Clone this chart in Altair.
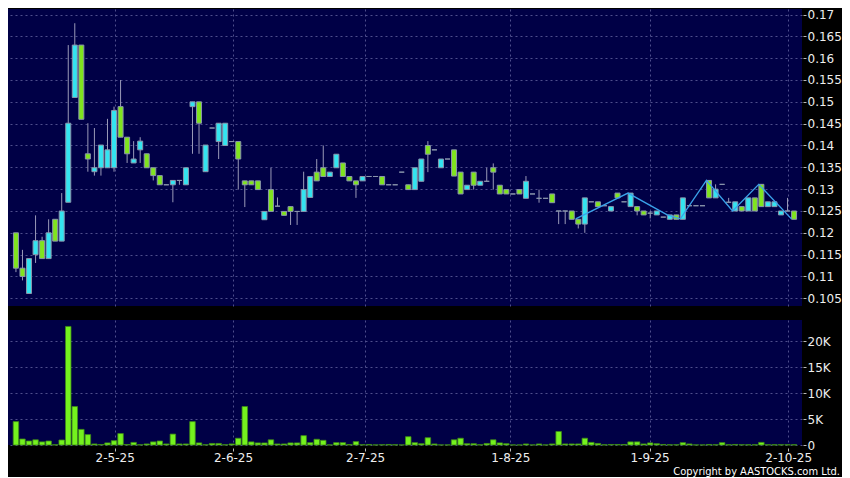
import altair as alt
import pandas as pd

# ---------------- data ----------------
open_ = [0.1200, 0.1119, 0.1061, 0.1150, 0.1182, 0.1141, 0.1231, 0.1181, 0.1270, 0.1510,
         0.1630, 0.1381, 0.1340, 0.1349, 0.1349, 0.1349, 0.1489, 0.1419, 0.1360, 0.1390,
         0.1381, 0.1349, 0.1331, 0.1310, 0.1310, 0.1320, 0.1310, 0.1489, 0.1500, 0.1340,
         0.1440, 0.1409, 0.1400, 0.1409, 0.1409, 0.1319, 0.1319, 0.1319, 0.1230, 0.1299,
         0.1261, 0.1249, 0.1260, 0.1249, 0.1249, 0.1281, 0.1339, 0.1349, 0.1329, 0.1349,
         0.1360, 0.1329, 0.1319, 0.1319, 0.1329, 0.1329, 0.1329, 0.1310, 0.1310, 0.1339,
         0.1310, 0.1299, 0.1318, 0.1400, 0.1390, 0.1349, 0.1369, 0.1390, 0.1339, 0.1299,
         0.1339, 0.1309, 0.1318, 0.1349, 0.1309, 0.1299, 0.1289, 0.1299, 0.1279, 0.1289,
         0.1279, 0.1279, 0.1289, 0.1250, 0.1250, 0.1250, 0.1231, 0.1220, 0.1271, 0.1271,
         0.1262, 0.1250, 0.1291, 0.1271, 0.1260, 0.1260, 0.1250, 0.1245, 0.1241, 0.1236,
         0.1231, 0.1241, 0.1231, 0.1262, 0.1262, 0.1262, 0.1320, 0.1280, 0.1311, 0.1270,
         0.1250, 0.1260, 0.1250, 0.1280, 0.1311, 0.1260, 0.1260, 0.1241, 0.1250, 0.1250]

high = [0.1200, 0.1161, 0.1141, 0.1240, 0.1191, 0.1231, 0.1231, 0.1291, 0.1630, 0.1680,
        0.1630, 0.1451, 0.1440, 0.1401, 0.1461, 0.1489, 0.1550, 0.1419, 0.1410, 0.1419,
        0.1381, 0.1349, 0.1331, 0.1310, 0.1320, 0.1320, 0.1349, 0.1500, 0.1500, 0.1401,
        0.1440, 0.1451, 0.1451, 0.1409, 0.1409, 0.1319, 0.1319, 0.1319, 0.1249, 0.1349,
        0.1281, 0.1249, 0.1260, 0.1249, 0.1340, 0.1329, 0.1369, 0.1400, 0.1339, 0.1380,
        0.1360, 0.1329, 0.1319, 0.1329, 0.1329, 0.1329, 0.1329, 0.1310, 0.1310, 0.1339,
        0.1310, 0.1349, 0.1369, 0.1410, 0.1390, 0.1369, 0.1369, 0.1390, 0.1339, 0.1309,
        0.1339, 0.1318, 0.1349, 0.1359, 0.1309, 0.1299, 0.1289, 0.1299, 0.1330, 0.1289,
        0.1299, 0.1279, 0.1289, 0.1250, 0.1250, 0.1250, 0.1231, 0.1280, 0.1271, 0.1271,
        0.1262, 0.1260, 0.1291, 0.1271, 0.1291, 0.1260, 0.1250, 0.1250, 0.1250, 0.1236,
        0.1241, 0.1241, 0.1280, 0.1262, 0.1262, 0.1262, 0.1320, 0.1311, 0.1311, 0.1280,
        0.1271, 0.1260, 0.1280, 0.1280, 0.1311, 0.1271, 0.1271, 0.1250, 0.1280, 0.1250]

low = [0.1110, 0.1091, 0.1061, 0.1131, 0.1141, 0.1141, 0.1181, 0.1181, 0.1270, 0.1510,
       0.1460, 0.1340, 0.1331, 0.1331, 0.1349, 0.1340, 0.1419, 0.1360, 0.1360, 0.1360,
       0.1349, 0.1320, 0.1310, 0.1310, 0.1270, 0.1310, 0.1310, 0.1381, 0.1381, 0.1340,
       0.1440, 0.1369, 0.1400, 0.1409, 0.1299, 0.1259, 0.1310, 0.1299, 0.1230, 0.1249,
       0.1261, 0.1240, 0.1218, 0.1218, 0.1249, 0.1281, 0.1319, 0.1329, 0.1329, 0.1349,
       0.1329, 0.1319, 0.1280, 0.1319, 0.1329, 0.1329, 0.1310, 0.1310, 0.1310, 0.1339,
       0.1299, 0.1299, 0.1318, 0.1339, 0.1390, 0.1349, 0.1369, 0.1330, 0.1289, 0.1299,
       0.1299, 0.1309, 0.1318, 0.1299, 0.1289, 0.1289, 0.1289, 0.1289, 0.1279, 0.1289,
       0.1269, 0.1279, 0.1269, 0.1220, 0.1220, 0.1231, 0.1210, 0.1200, 0.1271, 0.1260,
       0.1262, 0.1250, 0.1280, 0.1271, 0.1260, 0.1240, 0.1241, 0.1233, 0.1241, 0.1236,
       0.1231, 0.1231, 0.1231, 0.1262, 0.1262, 0.1262, 0.1280, 0.1280, 0.1311, 0.1270,
       0.1250, 0.1250, 0.1250, 0.1250, 0.1260, 0.1260, 0.1260, 0.1241, 0.1250, 0.1231]

close = [0.1119, 0.1100, 0.1141, 0.1182, 0.1141, 0.1200, 0.1181, 0.1250, 0.1451, 0.1630,
         0.1460, 0.1369, 0.1349, 0.1401, 0.1390, 0.1480, 0.1419, 0.1381, 0.1369, 0.1410,
         0.1349, 0.1331, 0.1310, 0.1310, 0.1320, 0.1320, 0.1349, 0.1500, 0.1451, 0.1401,
         0.1440, 0.1451, 0.1451, 0.1409, 0.1369, 0.1310, 0.1310, 0.1299, 0.1249, 0.1249,
         0.1261, 0.1240, 0.1249, 0.1249, 0.1299, 0.1329, 0.1319, 0.1329, 0.1339, 0.1380,
         0.1329, 0.1319, 0.1310, 0.1329, 0.1329, 0.1329, 0.1310, 0.1310, 0.1310, 0.1339,
         0.1299, 0.1349, 0.1369, 0.1380, 0.1390, 0.1369, 0.1369, 0.1330, 0.1289, 0.1309,
         0.1309, 0.1318, 0.1318, 0.1339, 0.1289, 0.1289, 0.1289, 0.1289, 0.1318, 0.1289,
         0.1279, 0.1279, 0.1269, 0.1250, 0.1250, 0.1231, 0.1220, 0.1280, 0.1271, 0.1260,
         0.1262, 0.1260, 0.1280, 0.1271, 0.1291, 0.1250, 0.1241, 0.1245, 0.1250, 0.1236,
         0.1241, 0.1231, 0.1280, 0.1262, 0.1262, 0.1262, 0.1280, 0.1300, 0.1311, 0.1270,
         0.1271, 0.1250, 0.1280, 0.1250, 0.1260, 0.1271, 0.1271, 0.1250, 0.1250, 0.1231]

volume = [4500, 1150, 770, 1000, 600, 770, 50, 960, 22800, 7400,
          3000, 2000, 200, 100, 400, 830, 2200, 100, 500, 50,
          200, 600, 770, 200, 2100, 200, 200, 4500, 400, 50,
          300, 300, 50, 200, 1300, 7400, 600, 400, 400, 1000,
          200, 200, 400, 400, 1800, 450, 1100, 900, 20, 450,
          450, 100, 650, 50, 100, 20, 50, 100, 50, 20,
          1600, 450, 250, 1400, 200, 20, 20, 1000, 1300, 250,
          250, 50, 300, 1000, 400, 250, 20, 20, 200, 20,
          200, 20, 200, 2600, 200, 200, 200, 1300, 500, 300,
          50, 100, 100, 100, 600, 600, 200, 400, 250, 100,
          50, 50, 450, 200, 20, 20, 100, 50, 450, 50,
          100, 50, 50, 50, 500, 50, 50, 50, 50, 50]

# zig-zag overlay (candle index, price)
zz_idx = [86, 94, 100, 102, 106, 110, 114, 119]
zz_val = [0.1232, 0.1291, 0.1241, 0.1232, 0.1320, 0.1250, 0.1311, 0.1232]

tick_pos = [15.1, 33.2, 53.4, 75.6, 96.9, 118.1]
tick_labels = ["2-5-25", "2-6-25", "2-7-25", "1-8-25", "1-9-25", "2-10-25"]
price_ticks = [0.105, 0.11, 0.115, 0.12, 0.125, 0.13, 0.135, 0.14, 0.145,
               0.15, 0.155, 0.16, 0.165, 0.17]
vol_ticks = [0, 5000, 10000, 15000, 20000]
copyright_text = "Copyright by AASTOCKS.com Ltd."

# ---------------- styling ----------------
NAVY = "#000046"
CYAN = "#33e4f0"
GREEN = "#80e41e"
FLAT = "#9a9ab4"
BODY_STROKE = "#8a96ac"
WICK = "#9a9ab8"
VOL = "#74f21e"
VOL_STROKE = "#3f8a18"
ZZ = "#3aa2ea"
GRID = "#4e4e8c"
TXT = "#eeeeee"
FONT = "DejaVu Sans"
PANEL_W = 794

df = pd.DataFrame({"i": list(range(len(close))), "o": open_, "h": high,
                   "l": low, "c": close, "v": volume})
df["dir"] = ["up" if c > o else ("down" if c < o else "flat")
             for o, c in zip(open_, close)]
zzdf = pd.DataFrame({"i": zz_idx, "p": zz_val})

label_expr = " : ".join(
    f"abs(datum.value - {p}) < 0.5 ? '{l}'" for p, l in zip(tick_pos, tick_labels)
) + " : ''"

xscale = alt.Scale(domain=[-0.45, 119.45], nice=False, zero=False)
pscale = alt.Scale(domain=[0.10324, 0.17126], nice=False, zero=False)
vscale = alt.Scale(domain=[0, 24040], nice=False)

price_y_axis = alt.Axis(orient="right", values=price_ticks, tickCount=40,
                        format=".3~f", title=None,
                        grid=True, gridColor=GRID, gridDash=[2, 3], gridWidth=1,
                        domain=False, tickColor="#bbbbbb", tickSize=3, offset=1,
                        labelPadding=1, labelColor=TXT, labelFont=FONT, labelFontSize=12,
                        labelOverlap=False, labelBound=False)
price_x_axis = alt.Axis(values=tick_pos, tickCount=40, labels=False, ticks=False,
                        domain=False, grid=True, gridColor=GRID, gridDash=[2, 3],
                        title=None)

base = alt.Chart(df)
wicks = base.mark_rule(color=WICK, strokeWidth=1).encode(
    x=alt.X("i:Q", scale=xscale, axis=price_x_axis),
    y=alt.Y("l:Q", scale=pscale, axis=price_y_axis),
    y2="h:Q",
)
bodies = base.mark_bar(size=5, stroke=BODY_STROKE, strokeWidth=1).encode(
    x=alt.X("i:Q", scale=xscale),
    y=alt.Y("o:Q", scale=pscale),
    y2="c:Q",
    color=alt.Color("dir:N", scale=alt.Scale(domain=["up", "down", "flat"],
                                             range=[CYAN, GREEN, FLAT]), legend=None),
)
zigzag = alt.Chart(zzdf).transform_calculate(xp="datum.i - 0.4").mark_line(
    color=ZZ, strokeWidth=1.3).encode(
    x=alt.X("xp:Q", scale=xscale),
    y=alt.Y("p:Q", scale=pscale),
)
price = alt.layer(wicks, bodies, zigzag).properties(width=PANEL_W, height=297)

vol_x_axis = alt.Axis(values=tick_pos, tickCount=40, labelExpr=label_expr, title=None,
                      grid=True, gridColor=GRID, gridDash=[2, 3], domain=False,
                      tickColor="#bbbbbb", tickSize=3, offset=3, labelPadding=1,
                      labelColor=TXT, labelFont=FONT, labelFontSize=12,
                      labelOverlap=False)
vol_y_axis = alt.Axis(orient="right", values=vol_ticks, tickCount=40, title=None,
                      labelExpr="datum.value == 0 ? '0' : (datum.value / 1000) + 'K'",
                      grid=True, gridColor=GRID, gridDash=[2, 3], domain=False,
                      tickColor="#bbbbbb", tickSize=3, offset=1, labelPadding=1,
                      labelColor=TXT, labelFont=FONT, labelFontSize=12,
                      labelOverlap=False)
vbars = base.mark_bar(size=5.5, color=VOL, stroke=VOL_STROKE, strokeWidth=0.8).encode(
    x=alt.X("i:Q", scale=xscale, axis=vol_x_axis),
    y=alt.Y("v:Q", scale=vscale, axis=vol_y_axis),
)
credit = alt.Chart(pd.DataFrame({"t": [copyright_text]})).mark_text(
    align="right", baseline="alphabetic", color="#ffffff",
    font="DejaVu Sans Condensed, DejaVu Sans", fontSize=11).encode(
    text="t:N", x=alt.value(832), y=alt.value(155))
volume_chart = alt.layer(vbars, credit).properties(width=PANEL_W, height=125)

chart = alt.vconcat(price, volume_chart, spacing=14).properties(
    background="black", padding=0
).configure_view(fill=NAVY, strokeWidth=0)

chart.save("out.html", embed_options={"renderer": "svg", "actions": False})
